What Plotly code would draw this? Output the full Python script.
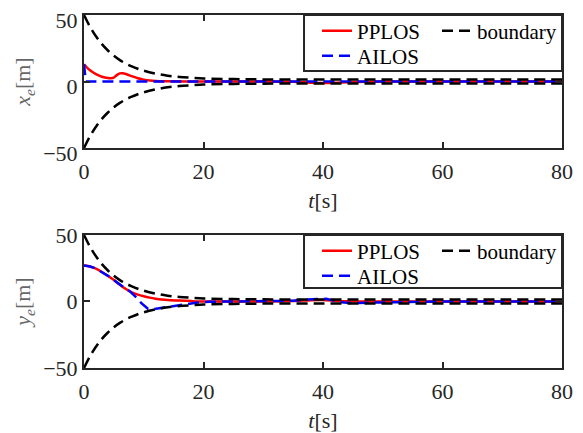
import plotly.graph_objects as go

# ---------------- data ----------------
t_bnd = [0, 1, 2, 3, 4, 5, 6, 7, 8, 9, 10, 12, 14, 16, 18, 20, 25, 30, 40, 50, 60, 70, 80]
bnd_upper = [50, 41.2, 34.0, 28.1, 23.3, 19.3, 16.1, 13.5, 11.4, 9.6, 8.1, 5.9, 4.4, 3.4,
             2.8, 2.3, 1.8, 1.6, 1.5, 1.5, 1.5, 1.5, 1.5]
bnd_lower = [-v for v in bnd_upper]

# x_e
t_x_pp = [0, 0.5, 1, 2, 3, 4, 4.5, 5, 5.5, 6, 6.5, 7, 8, 9, 10, 11, 12, 14, 20, 30,
          35, 38, 40, 42, 45, 50, 80]
x_pp = [13, 10.5, 8.5, 5.6, 3.6, 2.6, 2.5, 3.0, 4.8, 6.1, 6.2, 5.6, 4.0, 2.4, 1.4, 0.7,
        0.3, 0.1, 0, 0, -0.2, -0.9, -1.2, -0.9, -0.3, 0, 0]
t_x_ai = [0, 0.15, 0.3, 80]
x_ai = [13, 3, 0, 0]

# y_e
t_y_pp = [0, 1, 2, 3, 4, 5, 6, 7, 8, 9, 10, 11, 12, 13, 14, 16, 18, 20, 25, 30, 35, 38,
          40, 42, 44, 46, 50, 80]
y_pp = [27, 26.3, 24.7, 22.2, 19.3, 16.1, 12.6, 9.4, 6.9, 5.2, 3.9, 2.9, 2.1, 1.5, 1.1,
        0.7, 0.3, 0, 0, 0, 0.3, 1.0, 1.1, 0.6, 0.1, 0, 0, 0]
t_y_ai = [0, 1, 2, 3, 4, 5, 6, 7, 7.7, 8.5, 9, 9.6, 10, 10.7, 11.5, 12.7, 15, 17.7, 19,
          21, 25, 30, 35, 37, 39, 40.5, 42, 43.5, 45, 47, 50, 55, 60, 80]
y_ai = [27, 26.3, 24.7, 22.2, 19.3, 16.1, 12.6, 9.4, 7.6, 4.5, 2.0, -1.3, -3.0, -5.5,
        -5.8, -5.0, -3.8, -2.0, -0.8, -0.2, 0, 0, 0.5, 1.5, 2.1, 2.0, 0.5, -0.8, -1.1,
        -1.0, -0.5, -0.1, 0, 0]

x_ticks = [0, 20, 40, 60, 80]
y_ticks = [-50, 0, 50]

# ---------------- figure ----------------
RED = "#FF0000"
BLUE = "#0000FF"
BLACK = "#000000"
FONT = "Liberation Serif"
AX = "#262626"
DASH = "11px,6px"
LW = 2.5

fig = go.Figure()


def add_panel(row, t_pp, v_pp, t_ai, v_ai, leg_pp, leg_ai, leg_b):
    xa = "x" if row == 1 else "x2"
    ya = "y" if row == 1 else "y2"
    fig.add_trace(go.Scatter(x=t_pp, y=v_pp, mode="lines", name="PPLOS",
                             line=dict(color=RED, width=LW, shape="spline", smoothing=0.6),
                             xaxis=xa, yaxis=ya, legend=leg_pp))
    fig.add_trace(go.Scatter(x=t_ai, y=v_ai, mode="lines", name="AILOS",
                             line=dict(color=BLUE, width=LW, dash=DASH),
                             xaxis=xa, yaxis=ya, legend=leg_ai))
    fig.add_trace(go.Scatter(x=t_bnd, y=bnd_upper, mode="lines", name="boundary",
                             line=dict(color=BLACK, width=LW, dash=DASH, shape="spline"),
                             xaxis=xa, yaxis=ya, legend=leg_b))
    fig.add_trace(go.Scatter(x=t_bnd, y=bnd_lower, mode="lines", name="boundary",
                             line=dict(color=BLACK, width=LW, dash=DASH, shape="spline"),
                             xaxis=xa, yaxis=ya, legend=leg_b, showlegend=False))


add_panel(1, t_x_pp, x_pp, t_x_ai, x_ai, "legend", "legend2", "legend3")
add_panel(2, t_y_pp, y_pp, t_y_ai, y_ai, "legend4", "legend5", "legend6")

axis_common = dict(showline=True, linecolor=AX, linewidth=2, mirror="ticks",
                   ticks="inside", ticklen=6, tickwidth=1.5, tickcolor=AX,
                   showgrid=False, zeroline=False, automargin=False,
                   ticklabeloverflow="allow",
                   tickfont=dict(family=FONT, size=22, color=AX))

xtitle = dict(text="<i>t</i>[s]", font=dict(family=FONT, size=22, color=AX), standoff=9)

fig.update_layout(
    width=575, height=425,
    margin=dict(l=76, r=21, t=7, b=65, autoexpand=False),
    paper_bgcolor="white", plot_bgcolor="white",
    xaxis=dict(domain=[0, 1], range=[0, 80], tickvals=x_ticks, anchor="y",
               title=xtitle, ticklabelstandoff=3, **axis_common),
    yaxis=dict(domain=[0.6232, 1], range=[-50, 50], tickvals=y_ticks, anchor="x",
               ticklabelshift=5,
               title=dict(text="<i>x</i><sub><i>e</i></sub>[m]",
                          font=dict(family=FONT, size=22, color="#666666"), standoff=6),
               **axis_common),
    xaxis2=dict(domain=[0, 1], range=[0, 80], tickvals=x_ticks, anchor="y2",
                title=xtitle, ticklabelstandoff=3, **axis_common),
    yaxis2=dict(domain=[0, 0.3768], range=[-50, 50], tickvals=y_ticks, anchor="x2",
                title=dict(text="<i>y</i><sub><i>e</i></sub>[m]",
                           font=dict(family=FONT, size=22, color="#666666"), standoff=6),
                **axis_common),
    showlegend=True,
)

leg_common = dict(bgcolor="rgba(0,0,0,0)", borderwidth=0, xanchor="left", yanchor="middle",
                  font=dict(family=FONT, size=21, color=BLACK), orientation="v")
fig.update_layout(
    legend=dict(x=0.4874, y=0.9547, **leg_common),
    legend2=dict(x=0.4874, y=0.8839, **leg_common),
    legend3=dict(x=0.7385, y=0.9547, **leg_common),
    legend4=dict(x=0.4874, y=0.3314, **leg_common),
    legend5=dict(x=0.4874, y=0.2606, **leg_common),
    legend6=dict(x=0.7385, y=0.3314, **leg_common),
)

# legend frames
for (y0, y1) in [(0.8414, 1.0), (0.2266, 0.3768)]:
    fig.add_shape(type="rect", xref="paper", yref="paper", x0=0.4603, x1=1.0, y0=y0, y1=y1,
                  line=dict(color=AX, width=2), fillcolor="white", layer="above")

fig.write_html("out.html")
